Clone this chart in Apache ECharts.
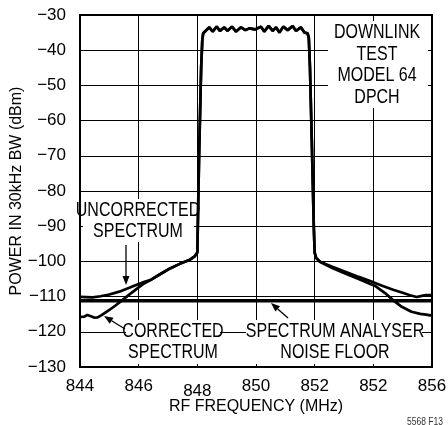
<!DOCTYPE html>
<html><head><meta charset="utf-8">
<script src="https://cdn.jsdelivr.net/npm/echarts@6/dist/echarts.min.js"></script>
<style>html,body{margin:0;padding:0;background:#fff}#c{width:448px;height:425px}</style>
</head><body><div id="c"></div>
<script>
// ---- data (MHz, dBm) ----
const xTickLabels = ['844', '846', '848', '850', '852', '852', '856'];
const uncorrectedLeft = [[844.0,-110.1],[844.43,-110.2],[844.7,-109.9],[845.0,-109.4],[845.34,-108.6],[845.68,-107.5],[846.0,-106.4],[846.2,-105.8]];
const correctedLeft = [[844.0,-115.8],[844.15,-115.7],[844.25,-115.2],[844.35,-115.5],[844.5,-116.0],[844.6,-115.9],[844.75,-115.2],[845.0,-113.8],[845.2,-112.6],[845.4,-111.3],[845.7,-109.3],[846.0,-107.4],[846.2,-106.2]];
const sharedLeftSkirt = [[846.4,-105.3],[846.7,-103.8],[847.07,-102.0],[847.4,-100.7],[847.75,-99.5],[847.92,-98.5],[848.0,-97.5]];
const passband = [[848.06,-70],[848.13,-45],[848.17,-37],[848.2,-35.2],[848.41,-33.5],[848.52,-34.7],[848.66,-33.3],[848.77,-34.5],[848.92,-33.5],[849.03,-34.5],[849.18,-33.3],[849.32,-34.7],[849.49,-33.5],[849.64,-34.3],[849.77,-33.8],[849.97,-34.1],[850.17,-33.3],[850.28,-34.7],[850.43,-33.1],[850.57,-34.5],[850.68,-33.5],[850.8,-35.0],[850.93,-33.3],[851.08,-34.3],[851.25,-33.1],[851.36,-34.5],[851.53,-33.5],[851.65,-35.0],[851.76,-35.2],[851.8,-36.5],[851.84,-45],[851.9,-65],[851.97,-90],[852.0,-97.5],[852.05,-99.0],[852.18,-100.1]];
const uncorrectedRight = [[852.6,-101.5],[853.0,-102.8],[853.5,-104.4],[853.89,-105.6],[854.3,-106.9],[854.7,-108.1],[855.0,-108.9],[855.25,-109.6],[855.48,-110.1],[855.65,-109.8],[855.8,-109.6],[856.0,-109.6]];
const correctedRight = [[852.6,-101.9],[853.0,-103.3],[853.5,-105.0],[853.9,-106.4],[854.05,-106.9],[854.2,-107.8],[854.4,-109.0],[854.67,-111.0],[854.97,-112.9],[855.3,-114.3],[855.6,-114.9],[855.8,-115.1],[856.0,-115.4]];
const noiseFloor = [[844,-111.2],[856,-111.2]];

const uncorrected = uncorrectedLeft.concat(sharedLeftSkirt, passband, uncorrectedRight);
const corrected = correctedLeft.concat(sharedLeftSkirt, passband, correctedRight);

const FONT = "'Liberation Sans',Arial,sans-serif";
const NARROW = 0.8;

function arrow(x1, y1, x2, y2) {
  const a = Math.atan2(y2 - y1, x2 - x1), L = 9, W = 3.5;
  const bx = x2 - L * Math.cos(a), by = y2 - L * Math.sin(a);
  const px = -Math.sin(a) * W, py = Math.cos(a) * W;
  return [
    { type: 'line', shape: { x1: x1, y1: y1, x2: bx, y2: by }, style: { stroke: '#000', lineWidth: 1.3 }, z: 100 },
    { type: 'polygon', shape: { points: [[x2, y2], [bx + px, by + py], [bx - px, by - py]] }, style: { fill: '#000' }, z: 100 }
  ];
}
function label(cx, cy, text, box) {
  return [
    { type: 'rect', shape: { x: box[0], y: box[1], width: box[2], height: box[3] }, style: { fill: '#fff' }, z: 99 },
    { type: 'text', x: cx, y: cy, scaleX: NARROW, scaleY: 1,
      style: { x: 0, y: 0, text: text, font: '20px ' + FONT, fill: '#000', align: 'center', verticalAlign: 'middle', lineHeight: 21.5 }, z: 100 }
  ];
}

const chart = echarts.init(document.getElementById('c'), null, { renderer: 'canvas' });
const lineStyle = { color: '#000', width: 2.7 };
chart.setOption({
  animation: false,
  backgroundColor: '#fff',
  grid: { left: 80, top: 15, width: 352, height: 352, containLabel: false, outerBoundsMode: 'none',
          show: true, borderColor: '#000', borderWidth: 2, backgroundColor: 'transparent' },
  xAxis: {
    type: 'value', min: 844, max: 856, interval: 2,
    name: 'RF FREQUENCY (MHz)', nameLocation: 'middle', nameGap: 32, nameMoveOverlap: false,
    nameTextStyle: { fontFamily: FONT, fontSize: 16, color: '#000' },
    axisLine: { show: false }, axisTick: { show: false },
    axisLabel: {
      margin: 11, fontFamily: FONT, fontSize: 17, color: '#000', hideOverlap: false,
      formatter: function (v) { const i = Math.round((v - 844) / 2); return i === 2 ? '{low|' + xTickLabels[i] + '}' : xTickLabels[i]; },
      rich: { low: { fontFamily: FONT, fontSize: 17, color: '#000', padding: [5, 0, 0, 0] } }
    },
    splitLine: { show: true, lineStyle: { color: '#000', width: 1 } }
  },
  yAxis: {
    type: 'value', min: -130, max: -30, interval: 10,
    name: 'POWER IN 30kHz BW (dBm)', nameLocation: 'middle', nameGap: 55, nameRotate: 90, nameMoveOverlap: false,
    nameTextStyle: { fontFamily: FONT, fontSize: 16, color: '#000' },
    axisLine: { show: false }, axisTick: { show: false },
    axisLabel: { margin: 14, fontFamily: FONT, fontSize: 17, color: '#000', hideOverlap: false,
      formatter: function (v) { return String(v).replace('-', '\u2212'); } },
    splitLine: { show: true, lineStyle: { color: '#000', width: 1 } }
  },
  series: [
    { type: 'line', data: noiseFloor, showSymbol: false, lineStyle: { color: '#000', width: 3.6 }, z: 3 },
    { type: 'line', name: 'Uncorrected', data: uncorrected, showSymbol: false, lineStyle: lineStyle, z: 4 },
    { type: 'line', name: 'Corrected', data: corrected, showSymbol: false, lineStyle: lineStyle, z: 4 }
  ],
  graphic: [].concat(
    label(377, 65, 'DOWNLINK\nTEST\nMODEL 64\nDPCH', [328, 21, 100, 87]),
    label(138, 221, 'UNCORRECTED\nSPECTRUM', [83, 199, 111, 43]),
    label(173, 342, 'CORRECTED\nSPECTRUM', [126, 320, 94, 44]),
    label(335, 342, 'SPECTRUM ANALYSER\nNOISE FLOOR', [246, 320, 176, 44]),
    arrow(126, 245, 126, 285),
    arrow(125, 329, 104, 316),
    arrow(288, 318, 271, 303),
    [{ type: 'text', x: 407, y: 417, scaleX: 0.85, style: { x: 0, y: 0, text: '5568 F13', font: '10px ' + FONT, fill: '#333' }, z: 100 }]
  )
});
</script></body></html>
